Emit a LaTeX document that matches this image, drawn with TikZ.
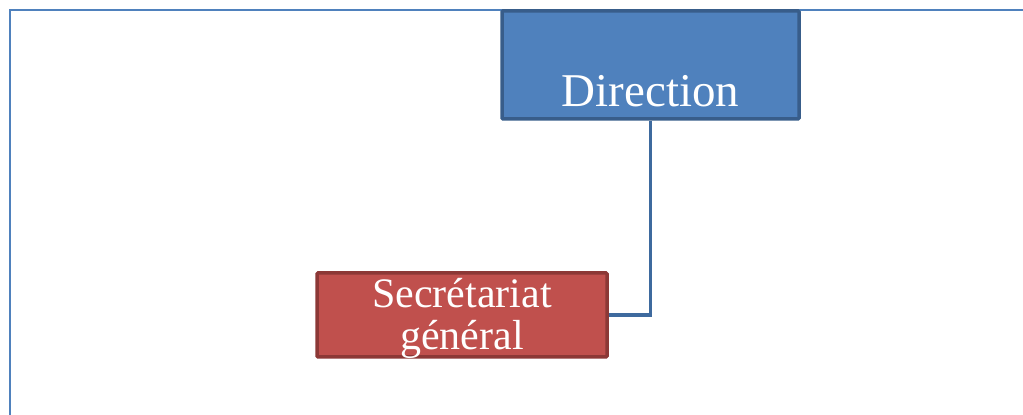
\documentclass[tikz,border=0pt]{standalone}
\usepackage{fontspec}
\setmainfont{Liberation Serif}
\usetikzlibrary{positioning, calc}
\definecolor{FrameBlue}{HTML}{4F81BD}
\definecolor{DirFill}{HTML}{4F81BD}
\definecolor{DirLine}{HTML}{385D8A}
\definecolor{SecFill}{HTML}{C0504D}
\definecolor{SecLine}{HTML}{8C3836}
\definecolor{LinkBlue}{HTML}{3E6A9E}

\begin{document}
\begin{tikzpicture}[x=1pt, y=1pt,
    box/.style={line width=3.5pt, rounded corners=1pt, inner sep=0pt, text=white, align=center},
    link/.style={line width=3.5pt, color=LinkBlue}]
                \useasboundingbox (0,0) rectangle (1023,415);
                % Frame
                \draw[line width=2.5pt, color=FrameBlue] (10,0) -- (10,405) -- (1023,405);
                
                \node[box, draw=DirLine, fill=DirFill, minimum width=297pt, text height=96pt, text depth=12pt, font=\fontsize{47}{47}\selectfont] (dir) at (650.5,350) {Direction};
                
                \node[box, draw=SecLine, fill=SecFill, minimum width=290pt, text height=77pt, text depth=7pt, font=\fontsize{42}{42}\selectfont] (sec) at (462,100) {Secrétariat\\général};
                
                % Arrows
                \draw[link] (dir.south) |- (sec.east);
            \end{tikzpicture}
\end{document}
